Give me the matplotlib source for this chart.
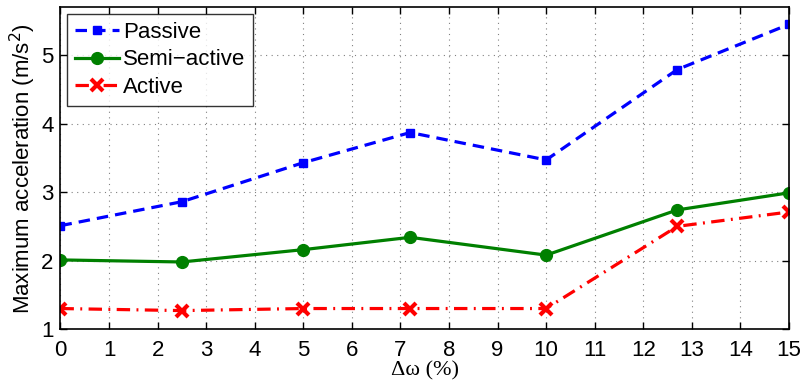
import matplotlib
matplotlib.use("Agg")
import matplotlib.pyplot as plt

plt.rcParams['font.family'] = ['Liberation Sans', 'DejaVu Sans']

delta_w = [0, 2.5, 5, 7.2, 10, 12.7, 15]
passive = [2.51, 2.86, 3.43, 3.87, 3.47, 4.79, 5.45]
semi_active = [2.01, 1.98, 2.16, 2.34, 2.08, 2.74, 2.99]
active = [1.30, 1.27, 1.30, 1.30, 1.30, 2.50, 2.71]

x_ticks = list(range(0, 16))
y_ticks = [1, 2, 3, 4, 5]

fig = plt.figure(figsize=(8.01, 3.80), dpi=100)
ax = fig.add_axes([0.0755, 0.134, 0.9095, 0.847])

ax.plot(delta_w, passive, color=(0, 0, 1), linestyle=(0, (3.6, 2.2)), linewidth=2.3,
        marker='s', markersize=6, label='Passive')
ax.plot(delta_w, semi_active, color=(0, 0.5, 0), linestyle='-', linewidth=2.3,
        marker='o', markersize=8.5, label='Semi\u2212active')
ax.plot(delta_w, active, color=(1, 0, 0), linestyle=(0, (4.2, 2, 0.6, 2)), linewidth=2.3,
        marker='x', markersize=9, markeredgewidth=3, label='Active')

ax.set_xlim(0, 15)
ax.set_ylim(1, 5.7)
ax.set_xticks(x_ticks)
ax.set_yticks(y_ticks)
ax.tick_params(direction='in', top=True, right=True, labelsize=16, length=5, width=1)
ax.tick_params(axis='x', pad=8)
ax.tick_params(axis='y', pad=5)
ax.grid(True, linestyle=(0, (1, 4)), color='#808080', linewidth=0.8)
for s in ax.spines.values():
    s.set_linewidth(1.2)

ax.set_xlabel('\u0394\u03c9 (%)', fontsize=16, family=['Liberation Serif', 'DejaVu Serif'], labelpad=0)
ax.set_ylabel('Maximum acceleration (m/s$^2$)', fontsize=16, labelpad=2)

leg = ax.legend(loc='upper left', fontsize=16, frameon=True, fancybox=False,
                edgecolor='black', borderaxespad=0.3, handlelength=2.0,
                labelspacing=0.3, borderpad=0.35, handletextpad=0.15)
leg.get_frame().set_linewidth(1.0)

fig.savefig('out.png', dpi=100)
